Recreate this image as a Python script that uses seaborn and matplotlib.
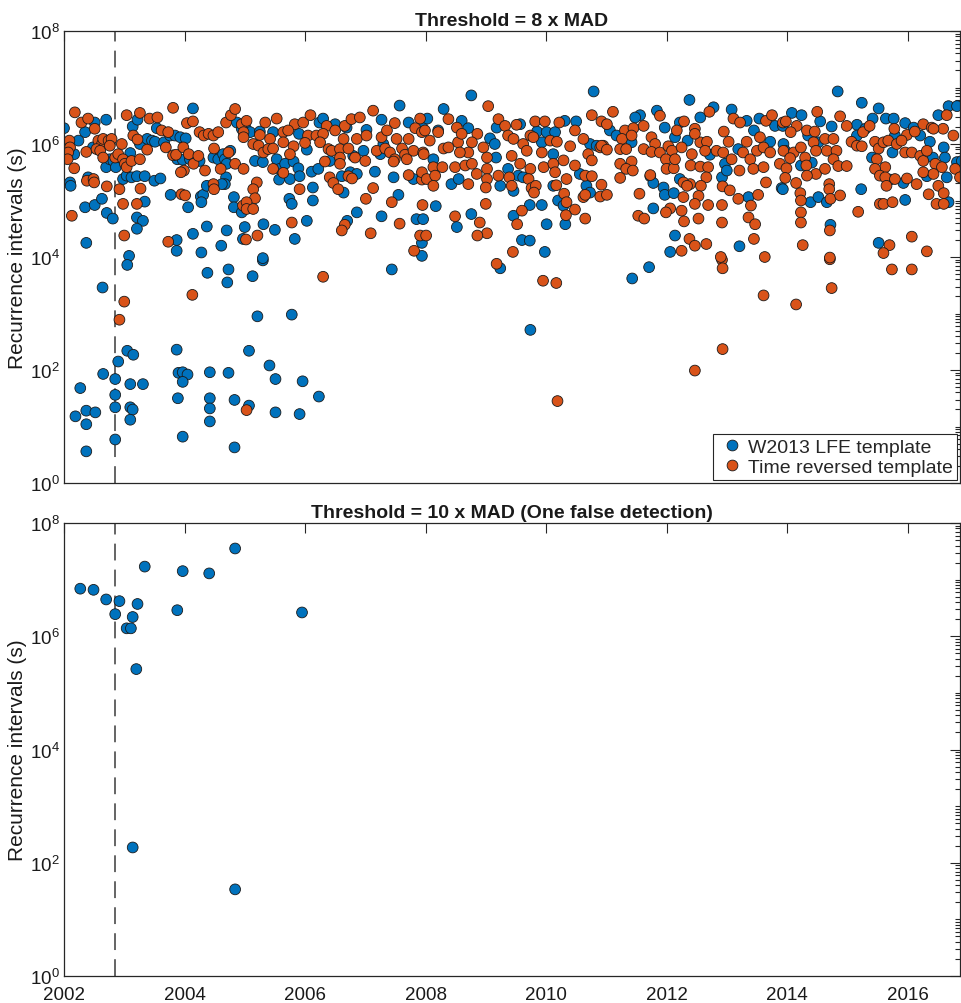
import numpy as np
import pandas as pd
import seaborn as sns
import matplotlib.pyplot as plt
from matplotlib.ticker import LogLocator, LogFormatterMathtext, NullFormatter, FixedLocator

# ---------------- data: (decimal year, log10 of recurrence interval in s) ----------------
# Top panel, W2013 LFE template (threshold 8 x MAD)
w2013_2002_2005 = [
    (2002.00, 6.28), (2002.35, 6.21), (2002.51, 6.38), (2002.70, 6.43), (2003.14, 6.31), (2003.22, 6.43),
    (2003.54, 6.28), (2004.14, 6.63), (2004.87, 6.38), (2004.95, 6.27), (2002.24, 6.06), (2002.17, 5.82),
    (2002.48, 5.94), (2002.70, 5.59), (2002.76, 5.73), (2002.82, 5.70), (2002.86, 5.59), (2003.10, 5.84),
    (2003.26, 6.00), (2003.38, 6.09), (2003.46, 6.06), (2003.51, 6.04), (2003.66, 6.03), (2003.76, 6.15),
    (2003.84, 6.15), (2003.93, 6.12), (2004.02, 6.10), (2003.88, 5.73), (2003.97, 5.72), (2004.09, 5.73),
    (2004.25, 5.70), (2004.48, 5.76), (2004.56, 5.73), (2004.64, 5.82), (2004.67, 5.73), (2004.70, 5.65),
    (2004.76, 5.88), (2004.69, 5.41), (2004.67, 5.29), (2004.62, 5.29), (2002.10, 5.32), (2002.11, 5.26),
    (2002.40, 5.41), (2002.98, 5.38), (2003.04, 5.44), (2003.12, 5.41), (2003.21, 5.43), (2003.34, 5.43),
    (2003.50, 5.35), (2003.60, 5.39), (2003.77, 5.10), (2004.06, 4.88), (2004.27, 5.07), (2004.31, 5.10),
    (2004.28, 4.97), (2004.37, 5.26), (2002.35, 4.88), (2002.51, 4.92), (2002.63, 5.03), (2002.71, 4.78),
    (2002.81, 4.68), (2003.21, 4.70), (2003.31, 4.64), (2003.21, 4.50), (2003.34, 4.98), (2002.37, 4.25),
    (2003.08, 4.02), (2003.87, 4.30), (2003.87, 4.11), (2004.14, 4.41), (2004.37, 4.54), (2004.28, 4.08),
    (2004.61, 4.20), (2004.70, 4.47), (2004.82, 5.06), (2004.82, 4.88), (2004.95, 4.79), (2004.97, 4.32),
    (2003.05, 3.86), (2002.64, 3.46), (2002.90, 2.15), (2003.05, 2.34), (2003.15, 2.27), (2002.65, 1.93),
    (2002.85, 1.84), (2003.10, 1.75), (2003.31, 1.75), (2002.27, 1.68), (2002.85, 1.56), (2002.85, 1.34),
    (2003.10, 1.34), (2003.14, 1.30), (2002.19, 1.18), (2002.37, 1.28), (2002.52, 1.25), (2002.37, 1.04),
    (2003.10, 1.12), (2002.85, 0.77), (2002.37, 0.56), (2003.87, 2.36), (2003.90, 1.95), (2003.97, 1.96),
    (2004.05, 1.92), (2003.89, 1.50), (2003.97, 0.82), (2003.97, 1.79),
    (2004.38, 3.72), (2004.73, 3.78), (2004.71, 3.55), (2004.42, 1.96), (2004.73, 1.95), (2004.42, 1.50),
    (2004.42, 1.32), (2004.42, 1.09), (2004.83, 1.47), (2004.83, 0.63),
]
w2013_2005_2008 = [
    (2005.13, 3.66), (2005.30, 3.94), (2005.21, 2.95), (2005.78, 2.98), (2005.07, 2.34), (2005.41, 2.08),
    (2005.51, 1.84), (2005.96, 1.80), (2005.07, 1.37), (2005.51, 1.25), (2005.91, 1.22), (2006.23, 1.53),
    (2007.57, 6.68), (2005.02, 6.27), (2005.09, 6.21), (2005.25, 6.22), (2005.47, 6.21), (2005.90, 6.18),
    (2006.24, 6.38), (2006.30, 6.45), (2006.50, 6.35), (2006.69, 6.29), (2007.02, 6.25), (2007.27, 6.43),
    (2007.72, 6.38), (2007.94, 6.32), (2005.17, 5.70), (2005.30, 5.68), (2005.53, 5.73), (2005.58, 5.56),
    (2005.67, 5.65), (2005.81, 5.69), (2005.89, 5.57), (2006.03, 5.90), (2006.11, 5.51), (2006.22, 5.56),
    (2006.41, 5.70), (2006.61, 5.43), (2006.75, 5.50), (2006.86, 5.47), (2007.16, 5.51), (2007.47, 5.41),
    (2007.80, 5.38), (2006.80, 5.79), (2006.97, 5.88), (2007.30, 6.00), (2007.25, 5.82), (2005.57, 5.37),
    (2005.75, 5.38), (2005.91, 5.43), (2006.13, 5.23), (2005.74, 5.03), (2005.78, 4.94), (2006.13, 5.00),
    (2006.64, 5.14), (2006.86, 4.79), (2006.70, 4.64), (2007.27, 4.72), (2007.55, 5.10), (2007.85, 4.67),
    (2005.00, 4.53), (2005.31, 4.58), (2005.50, 4.48), (2006.03, 4.64), (2005.83, 4.32), (2007.94, 4.25),
    (2005.30, 3.98), (2007.44, 3.78),
]
w2013_2008_2011 = [
    (2009.74, 2.71), (2009.24, 3.80), (2008.76, 6.86), (2010.79, 6.93), (2008.30, 6.62), (2008.03, 6.45),
    (2008.60, 6.41), (2008.71, 6.28), (2009.18, 6.29), (2009.57, 6.35), (2010.31, 6.41), (2010.50, 6.40),
    (2008.21, 6.24), (2009.07, 6.10), (2009.15, 6.00), (2009.85, 6.22), (2010.01, 6.21), (2010.15, 6.21),
    (2009.93, 6.03), (2010.12, 5.82), (2010.73, 6.00), (2010.84, 5.97), (2008.13, 5.73), (2009.17, 5.76),
    (2009.37, 5.56), (2009.54, 5.44), (2009.62, 5.41), (2008.43, 5.29), (2008.55, 5.38), (2009.24, 5.26),
    (2009.46, 5.17), (2010.12, 5.26), (2010.56, 5.47), (2010.67, 5.26), (2010.73, 5.14), (2010.20, 5.00),
    (2009.73, 4.92), (2009.93, 4.92), (2008.17, 4.90), (2010.29, 4.91), (2008.76, 4.76), (2008.52, 4.53),
    (2009.46, 4.73), (2010.01, 4.58), (2010.32, 4.58), (2009.60, 4.30), (2009.73, 4.29), (2009.98, 4.09),
    (2007.96, 4.67), (2007.94, 4.02),
]
w2013_2011_2014 = [
    (2011.43, 3.62), (2011.71, 3.82), (2012.38, 6.78), (2012.78, 6.65), (2011.84, 6.59), (2011.56, 6.51),
    (2011.48, 6.47), (2012.56, 6.47), (2013.08, 6.61), (2013.54, 6.45), (2013.80, 6.32), (2013.93, 6.32),
    (2011.06, 6.24), (2011.17, 6.15), (2011.42, 6.03), (2011.97, 6.29), (2012.22, 6.38), (2012.35, 6.06),
    (2012.14, 6.12), (2012.72, 5.81), (2013.33, 6.41), (2013.45, 6.24), (2013.72, 6.04), (2013.19, 5.91),
    (2012.97, 5.65), (2012.92, 5.41), (2013.00, 5.53), (2011.73, 5.43), (2011.78, 5.31), (2011.95, 5.23),
    (2011.97, 5.10), (2012.12, 5.13), (2012.22, 5.38), (2011.78, 4.86), (2013.36, 5.06), (2013.91, 5.22),
    (2012.14, 4.38), (2012.06, 4.09), (2013.21, 4.19),
]
w2013_2014_2017 = [
    (2014.84, 6.93), (2015.24, 6.73), (2015.52, 6.63), (2014.08, 6.55), (2014.24, 6.51), (2014.55, 6.40),
    (2014.74, 6.31), (2015.16, 6.34), (2015.42, 6.45), (2015.64, 6.45), (2015.77, 6.45), (2015.96, 6.37),
    (2016.10, 6.29), (2016.51, 6.51), (2016.68, 6.67), (2016.82, 6.67), (2013.94, 6.00), (2013.97, 5.88),
    (2014.35, 6.15), (2014.52, 6.03), (2015.16, 6.15), (2015.30, 6.27), (2015.79, 6.15), (2016.21, 6.15),
    (2016.37, 6.04), (2016.60, 5.94), (2016.62, 5.76), (2016.42, 5.76), (2016.82, 5.68), (2015.41, 5.76),
    (2014.23, 5.62), (2014.41, 5.67), (2015.75, 5.85), (2015.71, 5.37), (2015.93, 5.31), (2016.32, 5.43),
    (2016.65, 5.41), (2016.90, 5.70), (2013.93, 5.20), (2014.39, 4.97), (2014.52, 5.06), (2014.66, 4.97),
    (2015.23, 5.20), (2015.96, 5.01), (2016.68, 4.97), (2014.72, 4.57), (2015.52, 4.25),
]

# Top panel, time reversed template
tr_2002_2005 = [
    (2002.18, 6.56), (2002.29, 6.38), (2002.40, 6.45), (2002.51, 6.27), (2003.04, 6.51), (2003.26, 6.55),
    (2003.42, 6.45), (2003.55, 6.47), (2003.81, 6.64), (2004.04, 6.37), (2004.14, 6.40), (2004.69, 6.38),
    (2004.77, 6.51), (2004.84, 6.62), (2004.95, 6.35), (2002.09, 6.06), (2002.10, 5.94), (2002.07, 5.85),
    (2002.06, 5.73), (2002.17, 5.57), (2002.37, 5.86), (2002.57, 6.06), (2002.63, 6.00), (2002.65, 6.09),
    (2002.74, 6.06), (2002.79, 6.09), (2002.54, 5.91), (2002.60, 5.88), (2002.65, 5.76), (2002.76, 5.97),
    (2002.85, 5.76), (2002.90, 5.82), (2002.96, 6.00), (2002.98, 5.73), (2003.01, 5.65), (2003.04, 5.59),
    (2003.12, 5.70), (2003.26, 5.73), (2003.15, 6.15), (2003.22, 6.08), (2003.38, 5.90), (2003.62, 6.24),
    (2003.73, 6.21), (2003.69, 5.94), (2003.81, 5.80), (2003.86, 5.81), (2003.98, 5.94), (2003.99, 5.53),
    (2003.94, 5.50), (2004.07, 5.82), (2004.15, 5.65), (2004.23, 5.79), (2004.25, 6.21), (2004.32, 6.15),
    (2004.40, 6.18), (2004.48, 6.15), (2004.56, 6.21), (2004.49, 5.92), (2004.73, 5.85), (2004.84, 5.65),
    (2004.60, 5.56), (2004.34, 5.53), (2002.38, 5.35), (2002.49, 5.38), (2002.50, 5.32), (2002.71, 5.25),
    (2002.92, 5.20), (2002.98, 4.94), (2003.21, 4.94), (2003.27, 5.21), (2003.95, 5.11), (2004.01, 5.09),
    (2004.48, 5.29), (2004.49, 5.20), (2004.98, 5.56), (2002.13, 4.73), (2003.00, 4.38), (2003.73, 4.27),
    (2004.97, 4.91), (2004.98, 6.21), (2003.00, 3.21), (2002.92, 2.89), (2004.13, 3.33),
]
tr_2005_2008 = [
    (2005.03, 1.29), (2006.30, 3.65), (2005.03, 6.41), (2005.34, 6.38), (2005.53, 6.45), (2005.83, 6.35),
    (2005.97, 6.38), (2006.09, 6.51), (2006.36, 6.32), (2006.66, 6.32), (2006.77, 6.44), (2006.91, 6.47),
    (2007.13, 6.59), (2007.49, 6.37), (2007.91, 6.45), (2004.98, 6.12), (2005.25, 6.16), (2005.42, 6.09),
    (2005.64, 6.21), (2005.72, 6.24), (2006.05, 6.15), (2006.19, 6.15), (2006.30, 6.18), (2006.50, 6.24),
    (2006.64, 6.09), (2006.86, 6.09), (2007.02, 6.15), (2007.27, 6.12), (2007.36, 6.24), (2007.52, 6.09),
    (2007.72, 6.09), (2007.83, 6.28), (2007.94, 6.21), (2005.14, 6.00), (2005.23, 5.97), (2005.31, 5.85),
    (2005.39, 5.91), (2005.47, 5.92), (2005.64, 6.03), (2005.81, 5.96), (2005.75, 5.82), (2006.00, 6.02),
    (2006.25, 6.03), (2006.39, 5.91), (2006.44, 5.88), (2006.58, 5.91), (2006.58, 5.76), (2006.58, 5.65),
    (2006.72, 5.92), (2006.83, 5.76), (2007.00, 5.70), (2007.19, 5.88), (2007.33, 5.92), (2007.41, 5.85),
    (2007.49, 5.73), (2007.61, 5.92), (2007.66, 5.81), (2007.80, 5.88), (2007.96, 5.85), (2007.47, 5.69),
    (2007.69, 5.73), (2005.47, 5.56), (2005.64, 5.49), (2006.33, 5.69), (2006.41, 5.41), (2006.47, 5.31),
    (2006.55, 5.20), (2006.72, 5.43), (2006.78, 5.39), (2007.13, 5.22), (2007.01, 5.03), (2007.44, 4.97),
    (2007.94, 5.37), (2007.72, 5.45), (2005.91, 5.20), (2005.20, 5.32), (2005.14, 5.20), (2005.17, 5.04),
    (2005.03, 4.97), (2005.03, 4.85), (2005.14, 4.85), (2005.78, 4.61), (2006.66, 4.57), (2006.61, 4.47),
    (2007.09, 4.42), (2007.57, 4.59), (2005.02, 4.31), (2005.21, 4.38), (2007.81, 4.11), (2007.91, 4.38),
]
tr_2008_2011 = [
    (2009.18, 3.88), (2009.95, 3.58), (2010.17, 3.54), (2010.19, 1.45),
    (2009.04, 6.67), (2007.99, 6.24), (2008.21, 6.21), (2008.38, 6.44), (2008.52, 6.29), (2009.21, 6.44),
    (2009.32, 6.32), (2009.51, 6.34), (2009.82, 6.40), (2009.98, 6.40), (2010.22, 6.38), (2010.48, 6.24),
    (2010.76, 6.51), (2010.92, 6.40), (2008.07, 6.06), (2008.30, 5.92), (2008.54, 6.03), (2008.60, 6.18),
    (2008.86, 6.18), (2008.77, 6.03), (2008.71, 5.85), (2008.96, 5.94), (2008.57, 5.85), (2008.38, 5.94),
    (2007.97, 5.82), (2007.94, 5.50), (2008.13, 5.59), (2008.02, 5.38), (2008.16, 5.44), (2008.13, 5.26),
    (2008.28, 5.59), (2008.49, 5.59), (2008.66, 5.62), (2008.77, 5.65), (2008.85, 5.47), (2009.02, 5.76),
    (2009.02, 5.56), (2009.02, 5.38), (2009.00, 5.23), (2008.71, 5.29), (2009.21, 5.44), (2009.39, 5.41),
    (2009.43, 5.26), (2009.37, 6.15), (2009.46, 6.09), (2009.62, 6.00), (2009.68, 5.88), (2009.74, 6.15),
    (2009.79, 6.12), (2009.93, 5.85), (2010.07, 6.06), (2010.18, 6.04), (2010.40, 5.96), (2010.62, 6.09),
    (2010.70, 5.82), (2010.76, 5.71), (2010.90, 5.94), (2010.95, 5.97), (2009.43, 5.79), (2009.57, 5.65),
    (2009.74, 5.56), (2009.96, 5.59), (2010.12, 5.65), (2010.15, 5.50), (2010.29, 5.71), (2010.34, 5.38),
    (2010.48, 5.62), (2010.65, 5.44), (2010.76, 5.43), (2009.71, 5.38), (2009.76, 5.22), (2009.83, 5.26),
    (2009.80, 5.14), (2010.17, 5.27), (2010.30, 5.12), (2010.34, 4.97), (2010.48, 4.84), (2010.33, 4.74),
    (2010.65, 4.68), (2010.62, 5.06), (2010.65, 5.10), (2010.90, 5.07), (2009.00, 4.94), (2007.95, 4.92),
    (2008.49, 4.72), (2008.90, 4.61), (2009.02, 4.42), (2008.86, 4.38), (2009.52, 4.58), (2009.60, 4.82),
    (2008.01, 4.38), (2009.45, 4.09),
]
tr_2011_2014 = [
    (2012.93, 2.37), (2012.47, 1.99), (2012.92, 3.95), (2012.93, 3.80), (2013.61, 3.32),
    (2011.11, 6.57), (2011.01, 6.35), (2011.31, 6.24), (2011.45, 6.28), (2011.62, 6.32), (2011.89, 6.50),
    (2012.17, 6.24), (2012.29, 6.40), (2012.47, 6.27), (2012.71, 6.57), (2012.95, 6.22), (2013.11, 6.45),
    (2013.22, 6.38), (2013.65, 6.41), (2013.75, 6.51), (2013.93, 6.38), (2011.26, 6.09), (2011.42, 6.15),
    (2011.75, 6.12), (2011.81, 6.00), (2010.92, 5.97), (2011.01, 5.90), (2011.23, 5.91), (2011.33, 5.91),
    (2011.62, 5.91), (2011.75, 5.86), (2011.89, 5.85), (2012.03, 5.96), (2012.09, 5.88), (2012.25, 5.94),
    (2012.42, 5.82), (2012.56, 6.03), (2012.67, 6.04), (2012.64, 5.88), (2012.47, 6.18), (2012.83, 5.88),
    (2012.94, 5.85), (2013.03, 6.04), (2013.08, 5.73), (2013.27, 5.85), (2013.39, 5.73), (2013.50, 5.88),
    (2013.61, 5.94), (2013.33, 6.04), (2013.55, 6.12), (2013.72, 5.85), (2013.88, 5.65), (2011.23, 5.65),
    (2011.42, 5.69), (2011.33, 5.56), (2011.44, 5.53), (2011.99, 5.73), (2012.00, 5.56), (2012.12, 5.57),
    (2012.14, 5.73), (2012.40, 5.62), (2012.56, 5.60), (2012.69, 5.59), (2012.66, 5.41), (2012.57, 5.26),
    (2012.39, 5.29), (2012.28, 5.32), (2012.34, 5.26), (2011.23, 5.40), (2011.73, 5.45), (2010.92, 5.28),
    (2011.01, 5.10), (2011.55, 5.12), (2012.28, 5.06), (2012.53, 5.08), (2012.47, 4.94), (2012.69, 4.92),
    (2012.92, 4.92), (2012.93, 5.25), (2013.05, 5.18), (2013.19, 5.03), (2013.40, 4.91), (2013.52, 5.10),
    (2013.21, 5.53), (2013.44, 5.56), (2013.61, 5.59), (2013.65, 5.32), (2012.06, 4.86), (2011.99, 4.79),
    (2012.25, 4.82), (2011.53, 4.73), (2011.63, 4.68), (2012.29, 4.63), (2012.53, 4.68), (2012.92, 4.61),
    (2013.36, 4.70), (2013.47, 4.58), (2012.38, 4.32), (2012.47, 4.20), (2012.66, 4.23), (2012.25, 4.11),
    (2013.45, 4.32), (2012.90, 4.00), (2013.63, 4.00),
]
tr_2014_2017 = [
    (2014.15, 3.16), (2014.74, 3.45), (2014.71, 3.96), (2015.74, 3.78), (2016.07, 3.78),
    (2013.98, 6.40), (2014.16, 6.32), (2014.33, 6.24), (2014.46, 6.22), (2014.50, 6.57), (2014.88, 6.49),
    (2014.99, 6.32), (2015.26, 6.21), (2015.37, 6.32), (2015.78, 6.27), (2015.99, 6.16), (2016.12, 6.22),
    (2016.26, 6.35), (2016.40, 6.29), (2016.59, 6.27), (2016.65, 6.51), (2016.76, 6.15), (2014.06, 6.21),
    (2013.94, 5.88), (2014.11, 5.85), (2014.23, 5.94), (2014.05, 5.75), (2014.30, 5.76), (2014.44, 6.03),
    (2014.48, 5.88), (2014.66, 5.88), (2014.63, 6.09), (2014.77, 6.09), (2014.82, 5.88), (2014.77, 5.73),
    (2014.85, 5.61), (2014.99, 5.61), (2015.07, 6.04), (2015.16, 5.97), (2015.24, 5.96), (2015.46, 6.04),
    (2015.52, 5.92), (2015.60, 6.03), (2015.68, 6.06), (2015.82, 6.00), (2015.90, 6.06), (2015.96, 5.85),
    (2016.07, 5.85), (2016.21, 5.79), (2016.26, 5.70), (2016.32, 5.88), (2016.43, 6.27), (2016.46, 5.65),
    (2016.57, 5.59), (2016.79, 5.56), (2016.87, 5.41), (2013.99, 5.57), (2014.32, 5.62), (2014.48, 5.47),
    (2014.63, 5.56), (2013.97, 5.40), (2014.15, 5.31), (2014.33, 5.44), (2015.49, 5.73), (2015.63, 5.59),
    (2015.46, 5.56), (2015.54, 5.44), (2015.63, 5.41), (2015.65, 5.26), (2015.79, 5.38), (2015.99, 5.39),
    (2016.15, 5.29), (2016.26, 5.50), (2016.43, 5.47), (2016.51, 5.26), (2016.35, 5.11), (2016.60, 5.13),
    (2016.48, 4.94), (2016.60, 4.94), (2014.70, 5.29), (2014.70, 5.20), (2014.72, 5.03), (2014.88, 5.09),
    (2014.22, 5.13), (2014.23, 5.00), (2014.23, 4.79), (2014.23, 4.61), (2015.18, 4.80), (2015.54, 4.94),
    (2015.60, 4.94), (2015.75, 4.97), (2014.71, 4.47), (2014.26, 4.21), (2015.70, 4.21), (2015.60, 4.07),
    (2016.07, 4.36), (2016.32, 4.10), (2014.71, 3.99),
]

# Bottom panel, W2013 LFE template (threshold 10 x MAD)
w2013_10mad = [
    (2002.27, 6.84), (2002.49, 6.82), (2002.70, 6.65), (2002.92, 6.62), (2002.85, 6.39), (2003.22, 6.57),
    (2003.14, 6.34), (2003.04, 6.14), (2003.11, 6.14), (2003.34, 7.23), (2003.97, 7.15), (2004.41, 7.11),
    (2004.84, 7.55), (2003.88, 6.46), (2005.95, 6.42), (2003.20, 5.42), (2003.14, 2.27), (2004.84, 1.53),
]

marker_year = 2002.84
x_ticks = [2002, 2004, 2006, 2008, 2010, 2012, 2014, 2016]
x_limits = (2002.0, 2016.87)
y_limits = (1e0, 1e8)
labels = ["W2013 LFE template", "Time reversed template"]
titles = ["Threshold = 8 x MAD", "Threshold = 10 x MAD (One false detection)"]
colors = {"W2013 LFE template": "#0072BD", "Time reversed template": "#D95319"}


def to_frame(groups, label):
    pts = [p for g in groups for p in g]
    yr = np.array([p[0] for p in pts])
    lg = np.array([p[1] for p in pts])
    return pd.DataFrame({"year": yr, "interval": 10.0 ** lg, "template": label})


df_top = pd.concat([
    to_frame([w2013_2002_2005, w2013_2005_2008, w2013_2008_2011, w2013_2011_2014, w2013_2014_2017], labels[0]),
    to_frame([tr_2002_2005, tr_2005_2008, tr_2008_2011, tr_2011_2014, tr_2014_2017], labels[1]),
], ignore_index=True)
df_bot = to_frame([w2013_10mad], labels[0])

sns.set_theme(style="white")
plt.rcParams["font.family"] = ["Liberation Sans", "DejaVu Sans"]
plt.rcParams["mathtext.fontset"] = "custom"
plt.rcParams["mathtext.rm"] = "Liberation Sans"
plt.rcParams["mathtext.it"] = "Liberation Sans:italic"
plt.rcParams["mathtext.bf"] = "Liberation Sans:bold"

W, H = 961, 1004
fig = plt.figure(figsize=(W / 100, H / 100), dpi=100)
ax1 = fig.add_axes([64 / W, 1 - 484 / H, 896 / W, 452 / H])
ax2 = fig.add_axes([64 / W, 1 - 977 / H, 896 / W, 453 / H])

scatter_kw = dict(s=60, edgecolor="#1a1a1a", linewidth=0.6, alpha=1.0)
sns.scatterplot(data=df_top, x="year", y="interval", hue="template", palette=colors,
                hue_order=labels, ax=ax1, **scatter_kw)
sns.scatterplot(data=df_bot, x="year", y="interval", hue="template", palette=colors,
                ax=ax2, legend=False, **scatter_kw)

for ax, title in zip((ax1, ax2), titles):
    ax.set_yscale("log")
    ax.set_xlim(*x_limits)
    ax.set_ylim(*y_limits)
    ax.axvline(marker_year, color="#3a3a3a", lw=1.1, ls=(0, (11, 6)), zorder=0.5)
    ax.xaxis.set_major_locator(FixedLocator(x_ticks))
    ax.yaxis.set_major_locator(FixedLocator([1e0, 1e2, 1e4, 1e6, 1e8]))
    ax.yaxis.set_major_formatter(LogFormatterMathtext())
    ax.yaxis.set_minor_locator(LogLocator(base=10, subs=np.arange(1, 10), numticks=20))
    ax.yaxis.set_minor_formatter(NullFormatter())
    ax.tick_params(axis="both", which="both", direction="in", top=True, right=True,
                   colors="#262626", labelcolor="#1a1a1a", labelsize=13.5, width=0.8)
    ax.tick_params(axis="both", which="major", length=7, pad=3)
    ax.tick_params(axis="x", which="major", pad=7)
    ax.tick_params(axis="y", which="minor", length=3.5)
    for sp in ax.spines.values():
        sp.set_color("#262626")
        sp.set_linewidth(0.9)
    ax.set_ylabel("Recurrence intervals (s)", fontsize=15, color="#1a1a1a", labelpad=2)
    ax.set_xlabel("")
    ax.set_title(title, fontsize=14, fontweight="bold", color="#1a1a1a", pad=4)
    ax.grid(False)

ax1.set_xticklabels([])
ax2.set_xticklabels([str(t) for t in x_ticks])

handles, labs = ax1.get_legend_handles_labels()
for h in handles:
    try:
        h.set_markeredgecolor("#1a1a1a")
        h.set_markeredgewidth(0.6)
    except AttributeError:
        pass
ax1.legend(handles, labs, loc="lower right", frameon=True, fancybox=False, framealpha=1,
           edgecolor="#262626", fontsize=14, borderpad=0.2, handletextpad=0.1,
           labelspacing=0.15, borderaxespad=0.15, handlelength=1.5)
ax1.get_legend().get_frame().set_linewidth(0.8)

fig.savefig("out.png", dpi=100)
